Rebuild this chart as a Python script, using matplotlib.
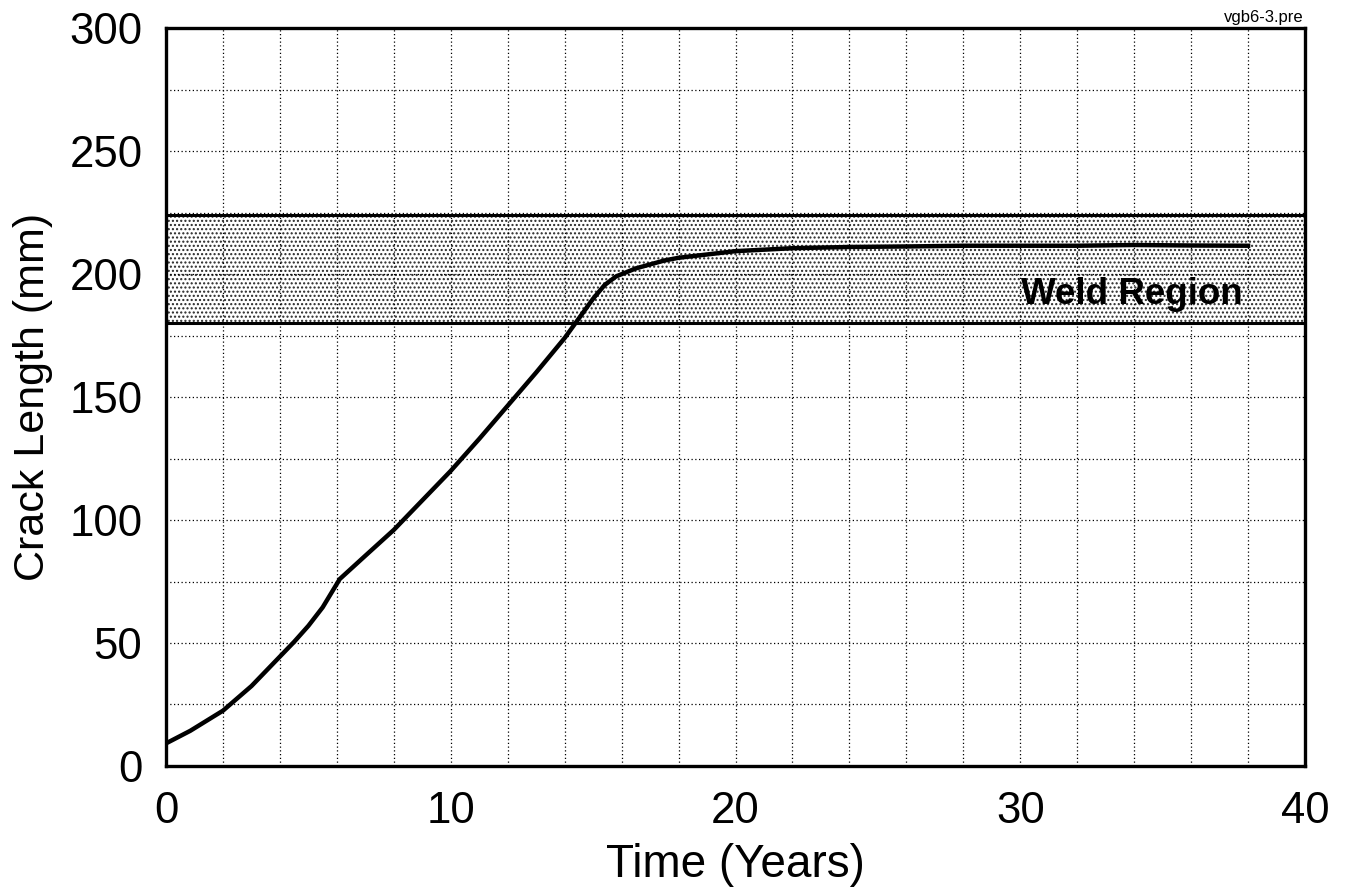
import matplotlib
matplotlib.use('Agg')
import matplotlib.pyplot as plt

plt.rcParams['font.family'] = ['Liberation Sans', 'DejaVu Sans']
plt.rcParams['hatch.linewidth'] = 1.0

# Crack growth curve
years = [0, 0.85, 2, 3, 4, 4.5, 5, 5.5, 6.1, 7, 8, 9, 10, 11, 12, 13, 14,
         14.5, 15, 15.4, 15.8, 16.5, 17.5, 18, 20, 22, 24, 26, 28, 30, 32,
         34, 36, 38]
crack_mm = [9.2, 14.3, 22.5, 32.5, 44.5, 50.5, 57, 64.5, 76, 85.5, 96, 108,
            120, 133, 146.5, 160, 174, 182, 190, 195.5, 199, 202.3, 205.5,
            206.6, 209.3, 210.5, 211, 211.2, 211.5, 211.5, 211.5, 211.8,
            211.6, 211.5]

# Weld band limits
weld_low = 180
weld_high = 224

x_ticks = [0, 10, 20, 30, 40]
y_ticks = [0, 50, 100, 150, 200, 250, 300]

fig = plt.figure(figsize=(13.49, 8.96), dpi=100)
ax = fig.add_axes([0.1231, 0.1451, 0.8443, 0.8236])

# weld region, stippled
ax.fill_between([0, 40], weld_low, weld_high, facecolor='white',
                hatch='....', edgecolor='0.15', linewidth=0, zorder=1)
ax.axhline(weld_low, color='black', lw=2.2, zorder=3)
ax.axhline(weld_high, color='black', lw=2.2, zorder=3)
ax.text(33.9, 191.5, 'Weld Region', fontsize=26.5, fontweight='bold',
        ha='center', va='center', zorder=4)

ax.plot(years, crack_mm, color='black', lw=3.2, zorder=5,
        solid_joinstyle='round')

ax.set_xlim(0, 40)
ax.set_ylim(0, 300)
ax.set_xticks(x_ticks)
ax.set_yticks(y_ticks)
ax.set_xticks(range(0, 41, 2), minor=True)
ax.set_yticks(range(0, 301, 25), minor=True)
ax.grid(True, which='both', color='black', linestyle=(0, (1, 2)), lw=0.9, zorder=2)
ax.set_axisbelow(False)
ax.tick_params(which='both', length=0, labelsize=31.5)
ax.tick_params(axis='y', pad=17)
ax.tick_params(axis='x', pad=18)
for s in ax.spines.values():
    s.set_linewidth(2.4)
    s.set_zorder(6)

ax.set_xlabel('Time (Years)', fontsize=33, labelpad=8)
ax.set_ylabel('Crack Length (mm)', fontsize=31, labelpad=12)

fig.text(0.966, 0.972, 'vgb6-3.pre', fontsize=12, ha='right', va='bottom')

fig.savefig('out.png', dpi=100)
